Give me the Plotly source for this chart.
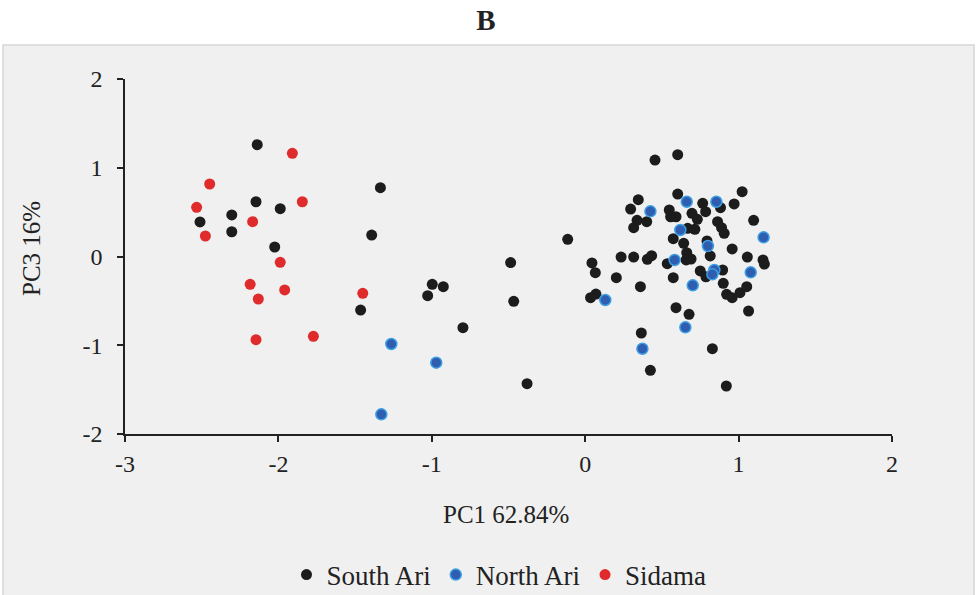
import plotly.graph_objects as go

south_x = [-2.138, -1.335, -2.146, -1.988, -2.511, -2.304, -2.304, -1.392, -2.024, -0.997, -0.925, -1.027, -1.464, -0.797,
           -0.486, -0.466, -0.379, -0.114,
           0.044, 0.066, 0.035, 0.070, 0.203, 0.234, 0.316, 0.360, 0.366, 0.346, 0.296, 0.338, 0.316, 0.401,
           0.455, 0.603, 0.603, 0.766, 0.785, 0.882, 0.971, 1.023, 0.548, 0.557, 0.592, 0.696, 0.731, 0.715,
           0.668, 0.574, 0.642, 0.863, 0.889, 0.906, 1.098, 0.794, 0.815, 0.958, 0.662, 0.690, 0.658, 0.535,
           0.405, 0.433, 0.574, 1.057, 1.159, 1.168, 0.750, 0.787, 0.896, 0.900, 0.922, 0.958, 1.009, 1.053,
           1.065, 0.592, 0.677, 0.829, 0.425, 0.920]
south_y = [1.260, 0.775, 0.617, 0.539, 0.389, 0.468, 0.279, 0.242, 0.107, -0.313, -0.340, -0.441, -0.603, -0.802,
           -0.069, -0.505, -1.433, 0.194,
           -0.073, -0.182, -0.464, -0.423, -0.239, -0.006, -0.006, -0.340, -0.862, 0.640, 0.535, 0.408, 0.325, 0.392,
           1.087, 1.147, 0.704, 0.599, 0.505, 0.550, 0.592, 0.730, 0.524, 0.448, 0.448, 0.487, 0.419, 0.306,
           0.318, 0.201, 0.149, 0.392, 0.325, 0.261, 0.408, 0.175, 0.006, 0.085, 0.043, -0.028, -0.039, -0.081,
           -0.032, 0.009, -0.239, -0.006, -0.039, -0.085, -0.163, -0.228, -0.152, -0.302, -0.426, -0.464, -0.408, -0.340,
           -0.614, -0.577, -0.651, -1.039, -1.282, -1.459]

north_x = [-1.264, -0.971, -1.329, 0.131, 0.373, 0.425, 0.662, 0.855, 0.620, 1.163, 0.800, 0.583, 0.842, 0.829,
           1.079, 0.701, 0.653]
north_y = [-0.986, -1.196, -1.778, -0.490, -1.039, 0.509, 0.617, 0.617, 0.299, 0.216, 0.118, -0.039, -0.152, -0.201,
           -0.178, -0.325, -0.798]

sidama_x = [-1.909, -2.448, -2.533, -1.844, -2.168, -2.476, -1.988, -2.184, -1.959, -2.131, -1.450, -2.146, -1.772]
sidama_y = [1.163, 0.817, 0.554, 0.617, 0.392, 0.231, -0.065, -0.313, -0.377, -0.479, -0.415, -0.937, -0.899]

x_ticks = [-3, -2, -1, 0, 1, 2]
y_ticks = [-2, -1, 0, 1, 2]

FONT = "Liberation Serif, Times New Roman, serif"
TXT = "#222222"

fig = go.Figure()
fig.add_trace(go.Scatter(x=south_x, y=south_y, mode="markers", name="South Ari",
                         marker=dict(size=11, color="#1c1c1c", line=dict(width=0))))
fig.add_trace(go.Scatter(x=north_x, y=north_y, mode="markers", name="North Ari",
                         marker=dict(size=11, color="#2f5db0", line=dict(width=1.5, color="#3d9fe3"))))
fig.add_trace(go.Scatter(x=sidama_x, y=sidama_y, mode="markers", name="Sidama",
                         marker=dict(size=11, color="#df2b2b", line=dict(width=0))))

# plot area: x 125..892, y 79..434 px
L, R, T, B = 125, 892, 79, 434
W, H = 976, 595
pw, ph = R - L, B - T

def px_to_paper_x(px):
    return (px - L) / pw

def py_to_paper_y(py):
    return (B - py) / ph

fig.add_shape(type="rect", xref="paper", yref="paper", layer="below",
              x0=px_to_paper_x(3), x1=px_to_paper_x(974),
              y0=py_to_paper_y(600), y1=py_to_paper_y(45),
              fillcolor="#f0f0f0", line=dict(color="#d6d6d6", width=1.5))

fig.add_annotation(text="PC1 62.84%", xref="paper", yref="paper",
                   x=px_to_paper_x(506), y=py_to_paper_y(514), showarrow=False,
                   font=dict(family=FONT, size=25, color=TXT), xanchor="center", yanchor="middle")
fig.add_annotation(text="PC3 16%", xref="paper", yref="paper",
                   x=px_to_paper_x(31), y=py_to_paper_y(249), showarrow=False, textangle=-90,
                   font=dict(family=FONT, size=25, color=TXT), xanchor="center", yanchor="middle")

fig.update_layout(
    width=W, height=H,
    margin=dict(l=L, r=W - R, t=T, b=H - B, pad=0),
    paper_bgcolor="white",
    plot_bgcolor="rgba(0,0,0,0)",
    font=dict(family=FONT, color=TXT),
    title=dict(text="<b>B</b>", x=486 / W, xanchor="center", y=1 - 20 / H, yanchor="middle", yref="container",
               font=dict(family=FONT, size=29, color=TXT)),
    showlegend=True,
    legend=dict(orientation="h", xref="container", x=499 / W, xanchor="center",
                yref="container", y=1 - 575 / H, yanchor="middle",
                font=dict(family=FONT, size=27, color=TXT), bgcolor="rgba(0,0,0,0)", itemwidth=30),
    xaxis=dict(range=[-3, 2], tickvals=x_ticks, ticktext=[str(v) for v in x_ticks], showgrid=False, zeroline=False,
               showline=True, linecolor="#222222", linewidth=1.5, ticks="outside", ticklen=6, tickwidth=1.5,
               tickcolor="#222222", tickfont=dict(family=FONT, size=24, color=TXT), fixedrange=True,
               ticklabelstandoff=1, automargin=False),
    yaxis=dict(range=[-2, 2], tickvals=y_ticks, ticktext=[str(v) for v in y_ticks], showgrid=False, zeroline=False,
               showline=True, linecolor="#222222", linewidth=1.5, ticks="outside", ticklen=6, tickwidth=1.5,
               tickcolor="#222222", tickfont=dict(family=FONT, size=24, color=TXT), fixedrange=True,
               ticklabelstandoff=10, automargin=False),
)

fig.write_html("out.html")
